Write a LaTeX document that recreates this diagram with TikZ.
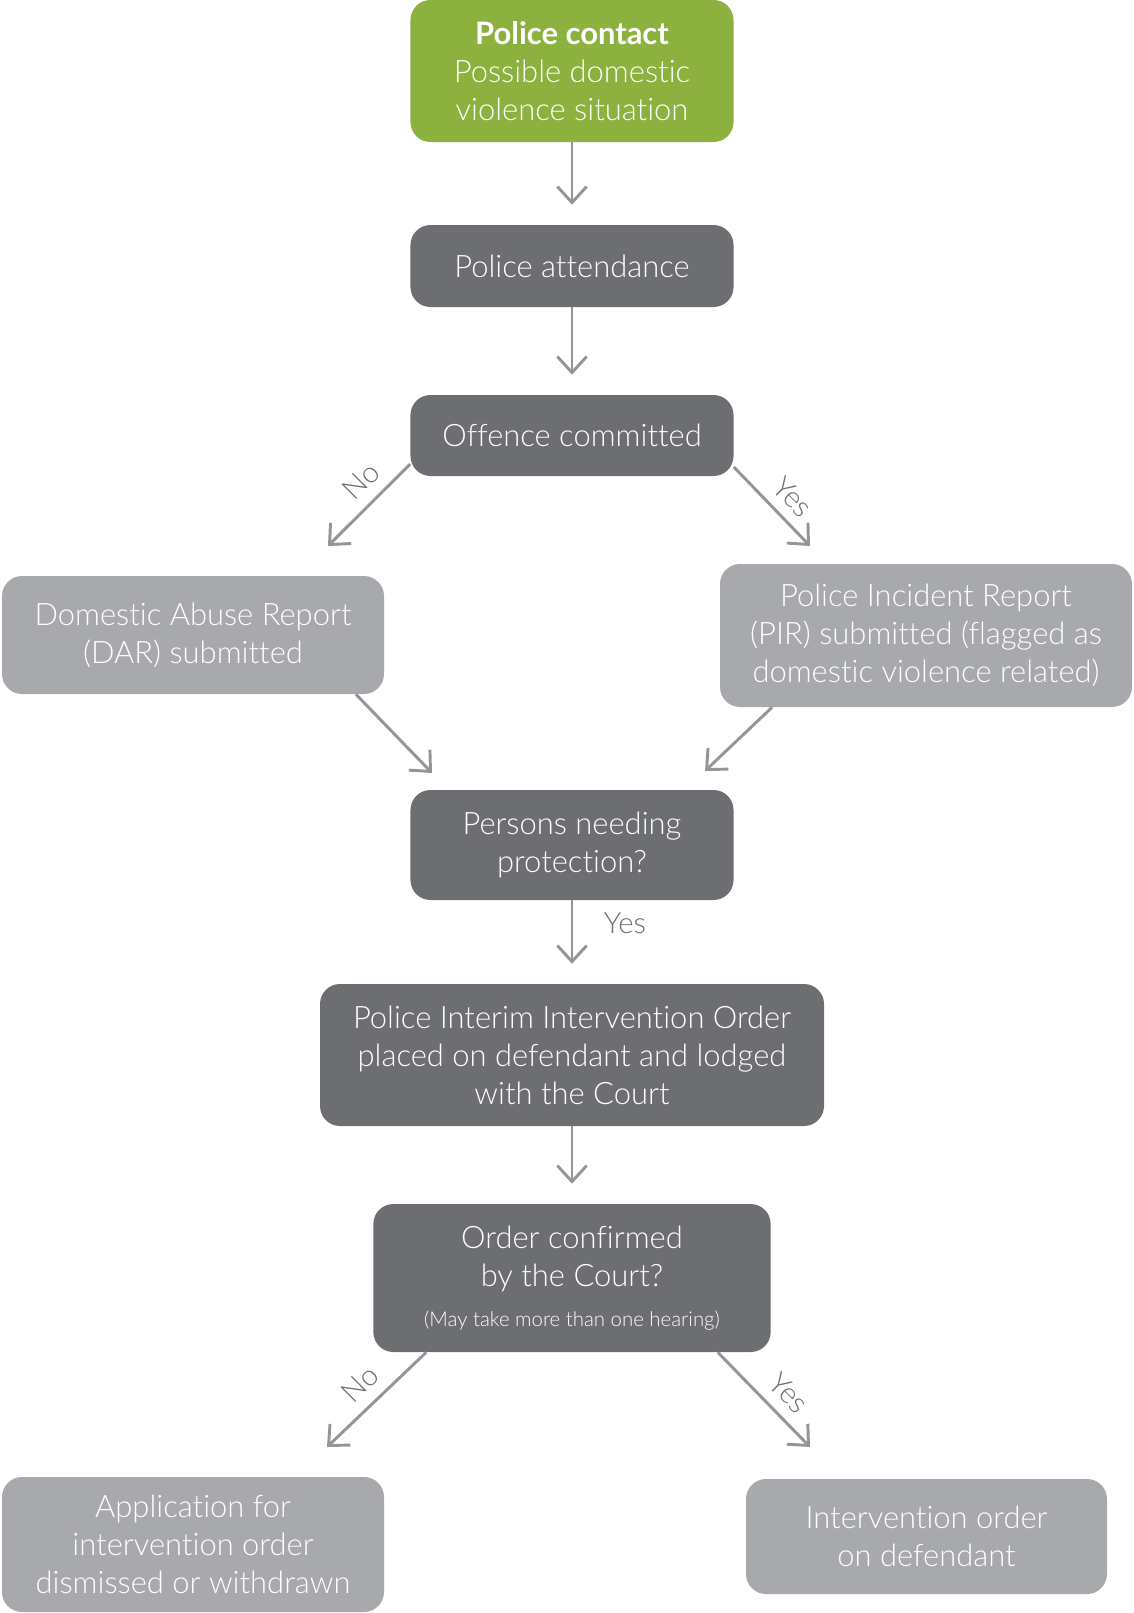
\documentclass[tikz,border=0pt]{standalone}
\usepackage{fontspec}
\IfFontExistsTF{Lato Light}{\setmainfont{Lato Light}[BoldFont=Lato Bold, Ligatures=NoCommon]}{\setmainfont{TeX Gyre Heros}}
\usetikzlibrary{arrows.meta}
\definecolor{contactgreen}{HTML}{8DB13F}
\definecolor{boxdark}{HTML}{6D6E71}
\definecolor{boxlight}{HTML}{A7A9AC}
\definecolor{arrowgray}{HTML}{939598}
\tikzset{
    box/.style = {rounded corners = 15pt, text = white, align = center, inner sep = 0pt,
        font = \fontsize{23.2}{28.5}\selectfont},
    greenbox/.style = {box, fill = contactgreen},
    darkbox/.style = {box, fill = boxdark},
    lightbox/.style = {box, fill = boxlight},
    flow/.style = {draw = arrowgray, line width = 2.2pt, -{Straight Barb[length = 12pt, width = 22pt]}},
    yesno/.style = {text = boxdark, inner sep = 0pt, font = \fontsize{22}{22}\selectfont}
}

\begin{document}
\begin{tikzpicture}[x = 0.75pt, y = -0.75pt]
        \useasboundingbox (0,0) rectangle (1133,1613);
        \node[greenbox, minimum width = 242.3pt, minimum height = 106.5pt] (contact) at (572,71)
            {\textbf{Police contact}\\Possible domestic\\violence situation};
        \node[darkbox, minimum width = 242.3pt, minimum height = 61.5pt] (attend) at (572,266) {Police attendance};
        \node[darkbox, minimum width = 242.3pt, minimum height = 60.75pt] (offence) at (572,435.5) {Offence committed};
        \node[lightbox, minimum width = 286.5pt, minimum height = 88.5pt] (dar) at (193,635)
            {Domestic Abuse Report\\(DAR) submitted};
        \node[lightbox, minimum width = 309pt, minimum height = 107.25pt] (pir) at (926,635.5)
            {Police Incident Report\\(PIR) submitted (flagged as\\domestic violence related)};
        \node[darkbox, minimum width = 242.3pt, minimum height = 82.5pt] (persons) at (572,845)
            {Persons needing\\protection?};
        \node[darkbox, minimum width = 378pt, minimum height = 106.5pt] (interim) at (572,1055)
            {Police Interim Intervention Order\\placed on defendant and lodged\\with the Court};
        \node[darkbox, minimum width = 298pt, minimum height = 111pt] (order) at (572,1278)
            {Order confirmed\\by the Court?\\[1pt]{\fontsize{15.3}{15.3}\selectfont(May take more than one hearing)}};
        \node[lightbox, minimum width = 286.5pt, minimum height = 101.25pt] (dismissed) at (193,1544.5)
            {Application for\\intervention order\\dismissed or withdrawn};
        \node[lightbox, minimum width = 270.75pt, minimum height = 86.25pt] (ioorder) at (926.5,1536.5)
            {Intervention order\\on defendant};

        \coordinate (noend) at (328,546);
        \coordinate (yesend) at (810,546);
        \coordinate (darend) at (432,773);
        \coordinate (pirend) at (705,771);
        \coordinate (dismissend) at (327,1447);
        \coordinate (confirmend) at (810,1447);

        \draw[flow, shorten > = 15pt] (contact.south) -- (attend.north);
        \draw[flow, shorten > = 15pt] (attend.south) -- (offence.north);
        \draw[flow] (offence.190) -- (noend);
        \draw[flow] (offence.-11) -- (yesend);
        \draw[flow] (dar.-20) -- (darend);
        \draw[flow] (pir.205) -- (pirend);
        \draw[flow, shorten > = 15pt] (persons.south) -- (interim.north);
        \draw[flow, shorten > = 15pt] (interim.south) -- (order.north);
        \draw[flow] (order.207) -- (dismissend);
        \draw[flow] (order.-27) -- (confirmend);

        \node[yesno, rotate = 45] (offenceno) at (361,481) {No};
        \node[yesno, rotate = -45] (offenceyes) at (793,497) {Yes};
        \node[yesno] (personsyes) at (625,923) {Yes};
        \node[yesno, rotate = 45] (orderno) at (360,1384) {No};
        \node[yesno, rotate = -45] (orderyes) at (789,1393) {Yes};
    \end{tikzpicture}
\end{document}
